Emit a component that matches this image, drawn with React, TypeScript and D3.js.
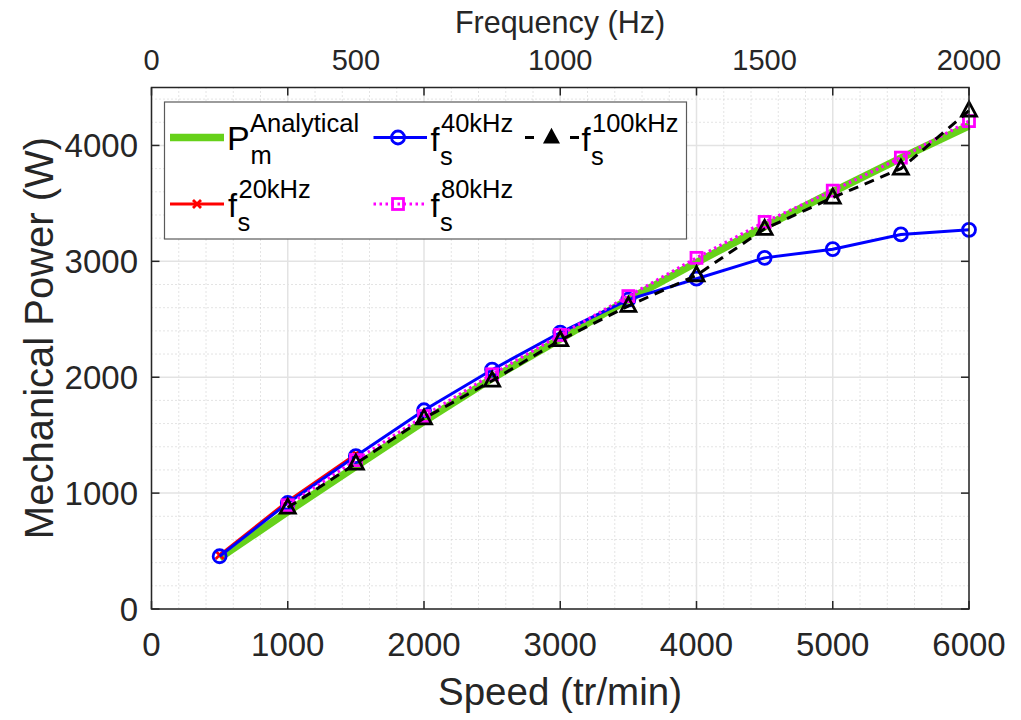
import React from "react";
import * as d3 from "d3";

const speeds = [500, 1000, 1500, 2000, 2500, 3000, 3500, 4000, 4500, 5000, 5500, 6000];
const analytical = [440, 840, 1230, 1620, 1990, 2330, 2670, 2990, 3300, 3600, 3890, 4170];
const speeds20 = [500, 1000, 1500];
const fs20 = [465, 930, 1335];
const fs40 = [455, 915, 1320, 1715, 2065, 2385, 2670, 2850, 3030, 3105, 3232, 3272];
const speedsHigh = [1000, 1500, 2000, 2500, 3000, 3500, 4000, 4500, 5000, 5500, 6000];
const fs80 = [895, 1285, 1665, 2025, 2365, 2700, 3030, 3340, 3610, 3895, 4210];
const fs100 = [875, 1255, 1645, 1970, 2320, 2615, 2880, 3280, 3550, 3800, 4300];

const xTicks = [0, 1000, 2000, 3000, 4000, 5000, 6000];
const yTicks = [0, 1000, 2000, 3000, 4000];
const freqTicks = [0, 500, 1000, 1500, 2000];

const W = 1021;
const H = 720;
const L = 151.5, R = 969, T = 87.5, B = 609;
const FONT = "'Liberation Sans', Arial, Helvetica, sans-serif";
const TXT = "#262626";
const SUP = 25.5;
const MAIN = 32.5;

export default function App() {
  const x = d3.scaleLinear().domain([0, 6000]).range([L, R]);
  const y = d3.scaleLinear().domain([0, 4500]).range([B, T]);
  const xf = d3.scaleLinear().domain([0, 2000]).range([L, R]);

  const line = d3.line<[number, number]>().x((d) => x(d[0])).y((d) => y(d[1]));
  const zip = (xs: number[], ys: number[]) => xs.map((v, i) => [v, ys[i]] as [number, number]);

  const minorX = d3.range(0, 6001, 200).filter((v) => v % 1000 !== 0);
  const minorY = d3.range(0, 4501, 200).filter((v) => v % 1000 !== 0);

  const circle = (cx: number, cy: number, k: string) => (
    <circle key={k} cx={cx} cy={cy} r={6.5} fill="none" stroke="#0000ff" strokeWidth={2.8} />
  );
  const square = (cx: number, cy: number, k: string) => (
    <rect key={k} x={cx - 5.5} y={cy - 5.5} width={11} height={11} fill="none" stroke="#ff00ff" strokeWidth={2.8} />
  );
  const tri = (cx: number, cy: number, k: string) => (
    <path key={k} d={`M${cx},${cy - 8.5}L${cx + 7.5},${cy + 5.5}L${cx - 7.5},${cy + 5.5}Z`} fill="none" stroke="#000" strokeWidth={2.8} strokeLinejoin="miter" />
  );
  const xmark = (cx: number, cy: number, k: string) => (
    <path key={k} d={`M${cx - 4},${cy - 4}L${cx + 4},${cy + 4}M${cx - 4},${cy + 4}L${cx + 4},${cy - 4}`} stroke="#ff0000" strokeWidth={2.8} />
  );

  const lx = 164.5, ly = 102, lw = 522, lh = 137;
  const row1 = 137.5, row2 = 204;

  const fsLabel = (fx: number, base: number, sup: string, k: string) => (
    <g key={k}>
      <text x={fx} y={base} fontSize={MAIN} fill="#000">f</text>
      <text x={fx + 10.5} y={base - 19} fontSize={SUP} fill="#000">{sup}</text>
      <text x={fx + 9.5} y={base + 14} fontSize={SUP} fill="#000">s</text>
    </g>
  );

  return (
    <svg width={W} height={H} style={{ position: "absolute", left: 0, top: 0, background: "#fff" }} fontFamily={FONT}>
      <rect x={0} y={0} width={W} height={H} fill="#fff" />
      {/* minor grid */}
      {minorX.map((v) => (
        <line key={"mx" + v} x1={x(v)} x2={x(v)} y1={T} y2={B} stroke="#c8c8c8" strokeWidth={1} strokeDasharray="1,3" />
      ))}
      {minorY.map((v) => (
        <line key={"my" + v} x1={L} x2={R} y1={y(v)} y2={y(v)} stroke="#c8c8c8" strokeWidth={1} strokeDasharray="1,3" />
      ))}
      {/* major grid */}
      {xTicks.map((v) => (
        <line key={"gx" + v} x1={x(v)} x2={x(v)} y1={T} y2={B} stroke="#e3e3e3" strokeWidth={1.5} />
      ))}
      {yTicks.map((v) => (
        <line key={"gy" + v} x1={L} x2={R} y1={y(v)} y2={y(v)} stroke="#e3e3e3" strokeWidth={1.5} />
      ))}

      {/* data */}
      <path d={line(zip(speeds, analytical)) || ""} fill="none" stroke="#66d11a" strokeWidth={7.5} />
      <path d={line(zip(speeds20, fs20)) || ""} fill="none" stroke="#ff0000" strokeWidth={3} />
      {speeds20.map((s, i) => xmark(x(s), y(fs20[i]), "r" + i))}
      <path d={line(zip(speeds, fs40)) || ""} fill="none" stroke="#0000ff" strokeWidth={3} />
      {speeds.map((s, i) => circle(x(s), y(fs40[i]), "b" + i))}
      <path d={line(zip(speedsHigh, fs80)) || ""} fill="none" stroke="#ff00ff" strokeWidth={3.2} strokeDasharray="2.5,3.5" />
      {speedsHigh.map((s, i) => square(x(s), y(fs80[i]), "p" + i))}
      <path d={line(zip(speedsHigh, fs100)) || ""} fill="none" stroke="#000" strokeWidth={3} strokeDasharray="10,7" />
      {speedsHigh.map((s, i) => tri(x(s), y(fs100[i]), "k" + i))}

      {/* axes box */}
      <rect x={L} y={T} width={R - L} height={B - T} fill="none" stroke={TXT} strokeWidth={1.5} />
      {xTicks.map((v) => (
        <g key={"tx" + v}>
          <line x1={x(v)} x2={x(v)} y1={B} y2={B - 8} stroke={TXT} strokeWidth={1.5} />
          <line x1={x(v)} x2={x(v)} y1={T} y2={T + 8} stroke={TXT} strokeWidth={1.5} />
          <text x={x(v)} y={656} textAnchor="middle" fontSize={33} fill={TXT}>{v}</text>
        </g>
      ))}
      {yTicks.map((v) => (
        <g key={"ty" + v}>
          <line x1={L} x2={L + 8} y1={y(v)} y2={y(v)} stroke={TXT} strokeWidth={1.5} />
          <line x1={R} x2={R - 8} y1={y(v)} y2={y(v)} stroke={TXT} strokeWidth={1.5} />
          <text x={138} y={y(v) + 12} textAnchor="end" fontSize={33} fill={TXT}>{v}</text>
        </g>
      ))}
      {freqTicks.map((v) => (
        <text key={"tf" + v} x={xf(v)} y={70} textAnchor="middle" fontSize={29} fill={TXT}>{v}</text>
      ))}

      {/* axis titles */}
      <text x={560} y={705} textAnchor="middle" fontSize={38.5} fill={TXT}>Speed (tr/min)</text>
      <text x={560} y={33} textAnchor="middle" fontSize={30.5} fill={TXT}>Frequency (Hz)</text>
      <text transform={`translate(53,338) rotate(-90)`} textAnchor="middle" fontSize={40} fill={TXT}>Mechanical Power (W)</text>

      {/* legend */}
      <rect x={lx} y={ly} width={lw} height={lh} fill="#fff" stroke="#5a5a5a" strokeWidth={1.2} />
      <line x1={170} x2={224} y1={row1} y2={row1} stroke="#66d11a" strokeWidth={7.5} />
      <text x={227} y={149.5} fontSize={34} fill="#000">P</text>
      <text x={250} y={132} fontSize={SUP} fill="#000">Analytical</text>
      <text x={250.5} y={164} fontSize={SUP} fill="#000">m</text>

      <line x1={170} x2={224} y1={row2} y2={row2} stroke="#ff0000" strokeWidth={3} />
      {xmark(197, row2, "lr")}
      {fsLabel(228, 217, "20kHz", "l20")}

      <line x1={373.5} x2={427} y1={row1} y2={row1} stroke="#0000ff" strokeWidth={3} />
      {circle(398, row1, "lb")}
      {fsLabel(430.5, 151, "40kHz", "l40")}

      <line x1={373.5} x2={427} y1={row2} y2={row2} stroke="#ff00ff" strokeWidth={3.2} strokeDasharray="2.5,3.5" />
      {square(398, row2, "lp")}
      {fsLabel(430.5, 217, "80kHz", "l80")}

      <line x1={525} x2={534} y1={row1} y2={row1} stroke="#000" strokeWidth={3} />
      <line x1={570} x2={579} y1={row1} y2={row1} stroke="#000" strokeWidth={3} />
      <path d={`M551.5,${row1 - 6.5}L557.5,${row1 + 4.5}L545.5,${row1 + 4.5}Z`} fill="#000" stroke="#000" strokeWidth={3} />
      {fsLabel(581.5, 151, "100kHz", "l100")}
    </svg>
  );
}
